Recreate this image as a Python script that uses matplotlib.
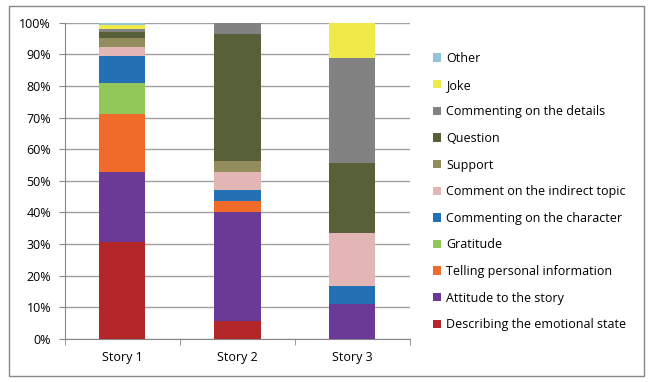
import numpy as np
import matplotlib
matplotlib.use("Agg")
import matplotlib.pyplot as plt
from matplotlib.patches import Rectangle, Patch

# Story labels and category shares (%)
stories = ["Story 1", "Story 2", "Story 3"]
categories = [
    "Describing the emotional state",
    "Attitude to the story",
    "Telling personal information",
    "Gratitude",
    "Commenting on the character",
    "Comment on the indirect topic",
    "Support",
    "Question",
    "Commenting on the details",
    "Joke",
    "Other",
]
emotional = [30.6, 5.6, 0.0]
attitude = [22.2, 34.4, 11.1]
personal = [18.3, 3.7, 0.0]
gratitude = [9.9, 0.0, 0.0]
character = [8.6, 3.5, 5.6]
indirect = [2.7, 5.6, 16.7]
support = [3.0, 3.5, 0.0]
question = [1.9, 40.0, 22.2]
details = [0.9, 3.7, 33.3]
joke = [1.1, 0.0, 11.1]
other = [0.8, 0.0, 0.0]

series = [emotional, attitude, personal, gratitude, character, indirect,
          support, question, details, joke, other]
colors = ["#B3262A", "#6B3A96", "#F06A2A", "#92C85A", "#2470B5", "#E3B6B6",
          "#938D5E", "#58603A", "#828282", "#F0E94A", "#92C3D6"]

plt.rcParams["font.family"] = ["Open Sans", "DejaVu Sans"]

fig = plt.figure(figsize=(6.54, 3.82), dpi=100)
ax = fig.add_axes([65 / 654, 1 - 339 / 382, 345 / 654, (339 - 22.7) / 382])

x = np.arange(len(stories))
bottom = np.zeros(len(stories))
for vals, col, name in zip(series, colors, categories):
    ax.bar(x, vals, width=0.4, bottom=bottom, color=col, label=name, zorder=3)
    bottom += np.array(vals)

ax.set_xlim(-0.5, 2.5)
ax.set_ylim(0, 100)
ax.set_yticks(np.arange(0, 101, 10))
ax.set_yticklabels([f"{v}%" for v in range(0, 101, 10)], fontsize=9)
ax.set_xticks(x)
ax.set_xticklabels(stories, fontsize=9)
ax.set_xticks([-0.5, 0.5, 1.5, 2.5], minor=True)
ax.tick_params(axis="x", which="major", length=0, pad=9)
ax.tick_params(axis="x", which="minor", length=4, color="#888888")
ax.tick_params(axis="y", length=4, color="#888888", pad=6)
ax.yaxis.grid(True, color="#A0A0A0", linewidth=1, zorder=0)
for s in ["top", "right"]:
    ax.spines[s].set_visible(False)
for s in ["left", "bottom"]:
    ax.spines[s].set_color("#888888")

handles = [Patch(facecolor=c, label=n) for c, n in zip(colors, categories)][::-1]
fig.legend(handles=handles, loc="upper left", bbox_to_anchor=(428 / 654, 1 - 47 / 382),
           frameon=False, fontsize=9, handlelength=0.65, handleheight=0.65,
           handletextpad=0.4, labelspacing=1.09, borderaxespad=0)

fig.patches.append(Rectangle((9 / 654, 1 - 376 / 382), 635 / 654, 370 / 382,
                             transform=fig.transFigure, fill=False,
                             edgecolor="#888888", linewidth=1))

fig.savefig("out.png", dpi=100)
